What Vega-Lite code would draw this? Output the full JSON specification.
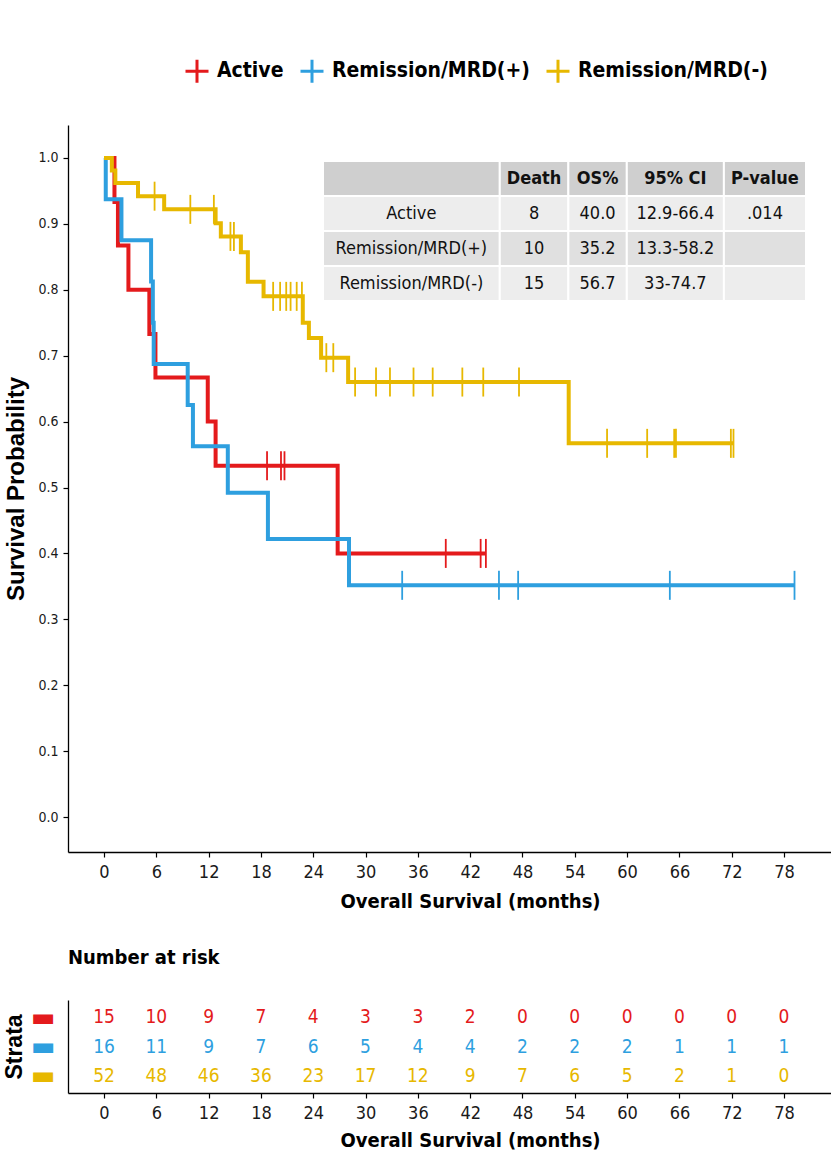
{
  "$schema": "https://vega.github.io/schema/vega-lite/v6.json",
  "autosize": {"type": "pad"},
  "padding": {"left": 3, "top": 58, "right": 0, "bottom": 0},
  "bounds": "flush",
  "spacing": 148,
  "background": "white",
  "config": {
    "view": {"stroke": null},
    "font": "DejaVu Sans Condensed, Liberation Sans, sans-serif",
    "axis": {"grid": false, "domainColor": "#000000", "tickColor": "#000000", "labelColor": "#1a1a1a", "titleColor": "#000000", "domainWidth": 1.3, "tickWidth": 1.2}
  },
  "datasets": {
    "curves": [
      {"group": "Active", "month": 0, "surv": 1.0},
      {"group": "Active", "month": 1.2, "surv": 0.933},
      {"group": "Active", "month": 1.6, "surv": 0.867},
      {"group": "Active", "month": 2.8, "surv": 0.8},
      {"group": "Active", "month": 5.2, "surv": 0.733},
      {"group": "Active", "month": 5.9, "surv": 0.667},
      {"group": "Active", "month": 11.9, "surv": 0.6},
      {"group": "Active", "month": 12.8, "surv": 0.533},
      {"group": "Active", "month": 26.8, "surv": 0.4},
      {"group": "Active", "month": 43.8, "surv": 0.4},
      {"group": "Remission/MRD(+)", "month": 0, "surv": 1.0},
      {"group": "Remission/MRD(+)", "month": 0.2, "surv": 0.9375},
      {"group": "Remission/MRD(+)", "month": 2.0, "surv": 0.875},
      {"group": "Remission/MRD(+)", "month": 5.4, "surv": 0.8125},
      {"group": "Remission/MRD(+)", "month": 5.6, "surv": 0.75},
      {"group": "Remission/MRD(+)", "month": 5.7, "surv": 0.6875},
      {"group": "Remission/MRD(+)", "month": 9.6, "surv": 0.625},
      {"group": "Remission/MRD(+)", "month": 10.2, "surv": 0.5625},
      {"group": "Remission/MRD(+)", "month": 14.2, "surv": 0.4922},
      {"group": "Remission/MRD(+)", "month": 18.8, "surv": 0.4219},
      {"group": "Remission/MRD(+)", "month": 28.1, "surv": 0.3516},
      {"group": "Remission/MRD(+)", "month": 79.2, "surv": 0.3516},
      {"group": "Remission/MRD(-)", "month": 0, "surv": 1.0},
      {"group": "Remission/MRD(-)", "month": 0.9, "surv": 0.981},
      {"group": "Remission/MRD(-)", "month": 1.3, "surv": 0.962},
      {"group": "Remission/MRD(-)", "month": 3.9, "surv": 0.942},
      {"group": "Remission/MRD(-)", "month": 6.9, "surv": 0.922},
      {"group": "Remission/MRD(-)", "month": 12.8, "surv": 0.901},
      {"group": "Remission/MRD(-)", "month": 13.4, "surv": 0.881},
      {"group": "Remission/MRD(-)", "month": 15.7, "surv": 0.857},
      {"group": "Remission/MRD(-)", "month": 16.5, "surv": 0.812},
      {"group": "Remission/MRD(-)", "month": 18.3, "surv": 0.79},
      {"group": "Remission/MRD(-)", "month": 22.8, "surv": 0.75},
      {"group": "Remission/MRD(-)", "month": 23.5, "surv": 0.727},
      {"group": "Remission/MRD(-)", "month": 24.9, "surv": 0.697},
      {"group": "Remission/MRD(-)", "month": 28.0, "surv": 0.66},
      {"group": "Remission/MRD(-)", "month": 53.3, "surv": 0.567},
      {"group": "Remission/MRD(-)", "month": 72.2, "surv": 0.567}
    ],
    "censors": [
      {"group": "Active", "month": 18.7, "surv": 0.533},
      {"group": "Active", "month": 20.3, "surv": 0.533},
      {"group": "Active", "month": 20.7, "surv": 0.533},
      {"group": "Active", "month": 39.2, "surv": 0.4},
      {"group": "Active", "month": 43.2, "surv": 0.4},
      {"group": "Active", "month": 43.8, "surv": 0.4},
      {"group": "Remission/MRD(+)", "month": 34.2, "surv": 0.3516},
      {"group": "Remission/MRD(+)", "month": 45.3, "surv": 0.3516},
      {"group": "Remission/MRD(+)", "month": 47.5, "surv": 0.3516},
      {"group": "Remission/MRD(+)", "month": 64.9, "surv": 0.3516},
      {"group": "Remission/MRD(+)", "month": 79.2, "surv": 0.3516},
      {"group": "Remission/MRD(-)", "month": 5.8, "surv": 0.942},
      {"group": "Remission/MRD(-)", "month": 9.9, "surv": 0.922},
      {"group": "Remission/MRD(-)", "month": 12.6, "surv": 0.922},
      {"group": "Remission/MRD(-)", "month": 14.5, "surv": 0.881},
      {"group": "Remission/MRD(-)", "month": 14.9, "surv": 0.881},
      {"group": "Remission/MRD(-)", "month": 19.4, "surv": 0.79},
      {"group": "Remission/MRD(-)", "month": 20.2, "surv": 0.79},
      {"group": "Remission/MRD(-)", "month": 20.9, "surv": 0.79},
      {"group": "Remission/MRD(-)", "month": 21.4, "surv": 0.79},
      {"group": "Remission/MRD(-)", "month": 22.1, "surv": 0.79},
      {"group": "Remission/MRD(-)", "month": 22.7, "surv": 0.79},
      {"group": "Remission/MRD(-)", "month": 25.5, "surv": 0.697},
      {"group": "Remission/MRD(-)", "month": 26.3, "surv": 0.697},
      {"group": "Remission/MRD(-)", "month": 28.8, "surv": 0.66},
      {"group": "Remission/MRD(-)", "month": 31.2, "surv": 0.66},
      {"group": "Remission/MRD(-)", "month": 32.8, "surv": 0.66},
      {"group": "Remission/MRD(-)", "month": 35.5, "surv": 0.66},
      {"group": "Remission/MRD(-)", "month": 37.7, "surv": 0.66},
      {"group": "Remission/MRD(-)", "month": 41.1, "surv": 0.66},
      {"group": "Remission/MRD(-)", "month": 43.5, "surv": 0.66},
      {"group": "Remission/MRD(-)", "month": 47.6, "surv": 0.66},
      {"group": "Remission/MRD(-)", "month": 57.7, "surv": 0.567},
      {"group": "Remission/MRD(-)", "month": 62.3, "surv": 0.567},
      {"group": "Remission/MRD(-)", "month": 65.4, "surv": 0.567},
      {"group": "Remission/MRD(-)", "month": 65.6, "surv": 0.567},
      {"group": "Remission/MRD(-)", "month": 71.9, "surv": 0.567},
      {"group": "Remission/MRD(-)", "month": 72.2, "surv": 0.567}
    ],
    "table": [
      {"row": "header", "col": "label", "text": "", "x0": 0, "x1": 36.6, "xc": 18.3},
      {"row": "header", "col": "Death", "text": "Death", "x0": 36.6, "x1": 50.8, "xc": 43.7},
      {"row": "header", "col": "OS%", "text": "OS%", "x0": 50.8, "x1": 62.9, "xc": 56.85},
      {"row": "header", "col": "95% CI", "text": "95% CI", "x0": 62.9, "x1": 83, "xc": 72.95},
      {"row": "header", "col": "P-value", "text": "P-value", "x0": 83, "x1": 100, "xc": 91.5},
      {"row": "Active", "col": "label", "text": "Active", "x0": 0, "x1": 36.6, "xc": 18.3},
      {"row": "Active", "col": "Death", "text": "8", "x0": 36.6, "x1": 50.8, "xc": 43.7},
      {"row": "Active", "col": "OS%", "text": "40.0", "x0": 50.8, "x1": 62.9, "xc": 56.85},
      {"row": "Active", "col": "95% CI", "text": "12.9-66.4", "x0": 62.9, "x1": 83, "xc": 72.95},
      {"row": "Active", "col": "P-value", "text": ".014", "x0": 83, "x1": 100, "xc": 91.5},
      {"row": "Remission/MRD(+)", "col": "label", "text": "Remission/MRD(+)", "x0": 0, "x1": 36.6, "xc": 18.3},
      {"row": "Remission/MRD(+)", "col": "Death", "text": "10", "x0": 36.6, "x1": 50.8, "xc": 43.7},
      {"row": "Remission/MRD(+)", "col": "OS%", "text": "35.2", "x0": 50.8, "x1": 62.9, "xc": 56.85},
      {"row": "Remission/MRD(+)", "col": "95% CI", "text": "13.3-58.2", "x0": 62.9, "x1": 83, "xc": 72.95},
      {"row": "Remission/MRD(+)", "col": "P-value", "text": "", "x0": 83, "x1": 100, "xc": 91.5},
      {"row": "Remission/MRD(-)", "col": "label", "text": "Remission/MRD(-)", "x0": 0, "x1": 36.6, "xc": 18.3},
      {"row": "Remission/MRD(-)", "col": "Death", "text": "15", "x0": 36.6, "x1": 50.8, "xc": 43.7},
      {"row": "Remission/MRD(-)", "col": "OS%", "text": "56.7", "x0": 50.8, "x1": 62.9, "xc": 56.85},
      {"row": "Remission/MRD(-)", "col": "95% CI", "text": "33-74.7", "x0": 62.9, "x1": 83, "xc": 72.95},
      {"row": "Remission/MRD(-)", "col": "P-value", "text": "", "x0": 83, "x1": 100, "xc": 91.5}
    ],
    "risk": [
      {"group": "Active", "month": 0, "n": 15}, {"group": "Active", "month": 6, "n": 10}, {"group": "Active", "month": 12, "n": 9},
      {"group": "Active", "month": 18, "n": 7}, {"group": "Active", "month": 24, "n": 4}, {"group": "Active", "month": 30, "n": 3},
      {"group": "Active", "month": 36, "n": 3}, {"group": "Active", "month": 42, "n": 2}, {"group": "Active", "month": 48, "n": 0},
      {"group": "Active", "month": 54, "n": 0}, {"group": "Active", "month": 60, "n": 0}, {"group": "Active", "month": 66, "n": 0},
      {"group": "Active", "month": 72, "n": 0}, {"group": "Active", "month": 78, "n": 0},
      {"group": "Remission/MRD(+)", "month": 0, "n": 16}, {"group": "Remission/MRD(+)", "month": 6, "n": 11}, {"group": "Remission/MRD(+)", "month": 12, "n": 9},
      {"group": "Remission/MRD(+)", "month": 18, "n": 7}, {"group": "Remission/MRD(+)", "month": 24, "n": 6}, {"group": "Remission/MRD(+)", "month": 30, "n": 5},
      {"group": "Remission/MRD(+)", "month": 36, "n": 4}, {"group": "Remission/MRD(+)", "month": 42, "n": 4}, {"group": "Remission/MRD(+)", "month": 48, "n": 2},
      {"group": "Remission/MRD(+)", "month": 54, "n": 2}, {"group": "Remission/MRD(+)", "month": 60, "n": 2}, {"group": "Remission/MRD(+)", "month": 66, "n": 1},
      {"group": "Remission/MRD(+)", "month": 72, "n": 1}, {"group": "Remission/MRD(+)", "month": 78, "n": 1},
      {"group": "Remission/MRD(-)", "month": 0, "n": 52}, {"group": "Remission/MRD(-)", "month": 6, "n": 48}, {"group": "Remission/MRD(-)", "month": 12, "n": 46},
      {"group": "Remission/MRD(-)", "month": 18, "n": 36}, {"group": "Remission/MRD(-)", "month": 24, "n": 23}, {"group": "Remission/MRD(-)", "month": 30, "n": 17},
      {"group": "Remission/MRD(-)", "month": 36, "n": 12}, {"group": "Remission/MRD(-)", "month": 42, "n": 9}, {"group": "Remission/MRD(-)", "month": 48, "n": 7},
      {"group": "Remission/MRD(-)", "month": 54, "n": 6}, {"group": "Remission/MRD(-)", "month": 60, "n": 5}, {"group": "Remission/MRD(-)", "month": 66, "n": 2},
      {"group": "Remission/MRD(-)", "month": 72, "n": 1}, {"group": "Remission/MRD(-)", "month": 78, "n": 0}
    ]
  },
  "vconcat": [
    {
      "width": 764,
      "height": 727,
      "layer": [
        {
          "layer": [
            {
              "data": {"name": "curves"},
              "mark": {"type": "line", "interpolate": "step-after", "strokeWidth": 4},
              "encoding": {
                "x": {"field": "month", "type": "quantitative",
                  "scale": {"domain": [-4.13, 83.5], "nice": false, "zero": false},
                  "axis": {"values": [0, 6, 12, 18, 24, 30, 36, 42, 48, 54, 60, 66, 72, 78], "title": "Overall Survival (months)",
                    "labelFontSize": 18, "tickSize": 5, "labelPadding": 6,
                    "titleFontSize": 20, "titleFontWeight": "bold", "titlePadding": 10, "titleX": 402}},
                "y": {"field": "surv", "type": "quantitative",
                  "scale": {"domain": [-0.053, 1.05], "nice": false, "zero": false},
                  "axis": {"values": [0, 0.1, 0.2, 0.3, 0.4, 0.5, 0.6, 0.7, 0.8, 0.9, 1.0], "format": ".1f", "title": "Survival Probability",
                    "labelFontSize": 14, "tickSize": 5, "labelPadding": 5,
                    "titleFontSize": 24, "titleFont": "Liberation Sans", "titleFontWeight": "bold", "titlePadding": 9}},
                "color": {"field": "group", "type": "nominal",
                  "scale": {"domain": ["Active", "Remission/MRD(+)", "Remission/MRD(-)"], "range": ["#E41A1C", "#2E9FDF", "#E7B800"]},
                  "legend": {"orient": "none", "legendX": 116, "legendY": -67, "direction": "horizontal", "title": null,
                    "symbolType": "M-1,0L1,0M0,-1L0,1", "symbolSize": 529, "symbolStrokeWidth": 3,
                    "labelFontSize": 21, "labelFontWeight": "bold", "labelColor": "#000000",
                    "columnPadding": 10, "labelOffset": 7, "labelLimit": 300}}
              }
            },
            {
              "data": {"name": "censors"},
              "mark": {"type": "point", "shape": "M0,-1L0,1", "filled": false, "size": 841, "strokeWidth": 1.8, "opacity": 1},
              "encoding": {
                "x": {"field": "month", "type": "quantitative"},
                "y": {"field": "surv", "type": "quantitative"},
                "color": {"field": "group", "type": "nominal"}
              }
            }
          ]
        },
        {
          "layer": [
            {
              "data": {"name": "table"},
              "mark": {"type": "rect", "stroke": "white", "strokeWidth": 2},
              "encoding": {
                "x": {"field": "x0", "type": "quantitative", "scale": {"domain": [0, 100], "range": [255, 738], "nice": false, "zero": false}, "axis": null},
                "x2": {"field": "x1"},
                "y": {"field": "row", "type": "nominal", "scale": {"domain": ["header", "Active", "Remission/MRD(+)", "Remission/MRD(-)"], "range": [36, 176], "paddingInner": 0, "paddingOuter": 0}, "axis": null},
                "fill": {"field": "row", "type": "nominal", "scale": {"domain": ["header", "Active", "Remission/MRD(+)", "Remission/MRD(-)"], "range": ["#CFCFCF", "#EDEDED", "#E0E0E0", "#EDEDED"]}, "legend": null}
              }
            },
            {
              "data": {"name": "table"},
              "transform": [{"filter": "datum.row == 'header'"}],
              "mark": {"type": "text", "fontSize": 18, "fontWeight": "bold", "color": "#111111"},
              "encoding": {
                "x": {"field": "xc", "type": "quantitative"},
                "y": {"field": "row", "type": "nominal"},
                "text": {"field": "text"}
              }
            },
            {
              "data": {"name": "table"},
              "transform": [{"filter": "datum.row != 'header'"}],
              "mark": {"type": "text", "fontSize": 18, "color": "#111111"},
              "encoding": {
                "x": {"field": "xc", "type": "quantitative"},
                "y": {"field": "row", "type": "nominal"},
                "text": {"field": "text"}
              }
            }
          ]
        }
      ],
      "resolve": {"scale": {"x": "independent", "y": "independent"}}
    },
    {
      "width": 764,
      "height": 93,
      "title": {"text": "Number at risk", "anchor": "start", "frame": "group", "fontSize": 20, "fontWeight": "bold", "offset": 32, "color": "#000000"},
      "data": {"name": "risk"},
      "mark": {"type": "text", "fontSize": 19},
      "encoding": {
        "x": {"field": "month", "type": "quantitative",
          "scale": {"domain": [-4.13, 83.5], "nice": false, "zero": false},
          "axis": {"values": [0, 6, 12, 18, 24, 30, 36, 42, 48, 54, 60, 66, 72, 78], "title": "Overall Survival (months)",
            "labelFontSize": 18, "tickSize": 5, "labelPadding": 6,
            "titleFontSize": 20, "titleFontWeight": "bold", "titlePadding": 8, "titleX": 402}},
        "y": {"field": "group", "type": "nominal",
          "scale": {"type": "point", "domain": ["Active", "Remission/MRD(+)", "Remission/MRD(-)"], "padding": 0.6},
          "axis": {"title": "Strata", "titleFontSize": 23, "titleFont": "Liberation Sans", "titleFontWeight": "bold", "titlePadding": 4,
            "labelExpr": "'▬'", "labelFont": "DejaVu Sans", "labelFontSize": 26, "ticks": false, "labelPadding": 13,
            "labelColor": {"condition": [
              {"test": "datum.value === 'Active'", "value": "#E41A1C"},
              {"test": "datum.value === 'Remission/MRD(+)'", "value": "#2E9FDF"}], "value": "#E7B800"}}},
        "text": {"field": "n", "type": "quantitative"},
        "color": {"field": "group", "type": "nominal", "legend": null}
      }
    }
  ]
}
